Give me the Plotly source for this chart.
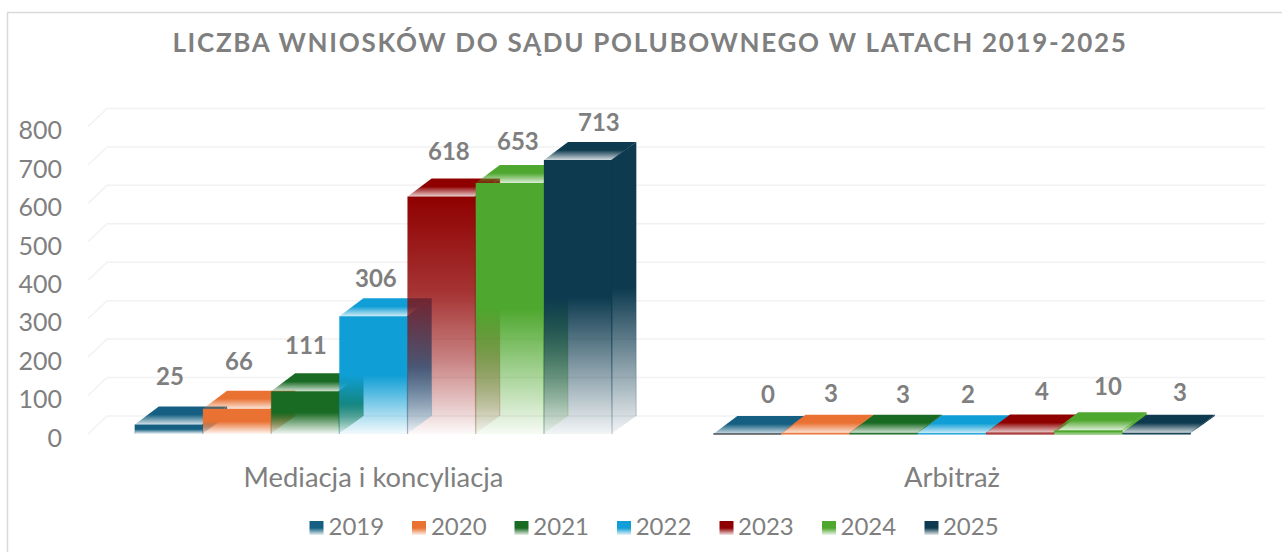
import plotly.graph_objects as go

W, H = 1282, 552
categories = ["Mediacja i koncyliacja", "Arbitraż"]
years = ["2019", "2020", "2021", "2022", "2023", "2024", "2025"]
mediacja = [25, 66, 111, 306, 618, 653, 713]
arbitraz = [0, 3, 3, 2, 4, 10, 3]
colors = ["#156082", "#E97132", "#196B24", "#0F9ED5", "#8F0000", "#4EA72E", "#0D3A4F"]
y_ticks = [0, 100, 200, 300, 400, 500, 600, 700, 800]
label_dx = [[1, 2, 1, 2, 7, 8, 21], [21, 15, 19, 16, 22, 20, 23]]
label_up = [[49, 48, 47, 39, 46, 42, 38], [41, 40, 39, 40, 42, 45, 41]]

GREY = "#7F7F7F"
FONT = "Lato"
# pixel geometry of the scene
PX_UNIT = 0.3844     # px per value unit
Y0_PX = 434
X0_PX, X1_PX = 373.5, 952
CAT_PX = X1_PX - X0_PX
PLOT_L, PLOT_R, PLOT_T, PLOT_B = 84, 1270, 90, 442
BAR_PX, DX_PX, DY_PX = 68.2, 24, 18
WALL_DX_PX = 19

# opacity along the height of a face: (position from the bottom, opacity)
FADE_HALF = [(0, 0.05), (0.5, 1), (1, 1)]
FADE_LONG = [(0, 0.02), (0.11, 0.2), (0.32, 0.5), (0.6, 0.8), (1, 1)]
fades = [FADE_HALF, FADE_HALF, FADE_HALF, FADE_HALF, FADE_LONG, FADE_HALF, FADE_HALF]


def xu(px):
    return px / CAT_PX


def yu(px):
    return px / PX_UNIT


def rgba(h, a):
    h = h.lstrip("#")
    return "rgba(%d,%d,%d,%.3f)" % (int(h[:2], 16), int(h[2:4], 16), int(h[4:], 16), a)


def scale_of(col, fade):
    return [[p, rgba(col, a)] for p, a in fade]


def poly(xs, ys, scale, start, stop):
    return go.Scatter(
        x=xs + xs[:1], y=ys + ys[:1], mode="lines", line=dict(width=0), fill="toself",
        fillgradient=dict(type="vertical", start=start, stop=stop, colorscale=scale),
        showlegend=False, hoverinfo="skip",
    )


fig = go.Figure()

x_min = xu(PLOT_L - X0_PX)
x_max = xu(PLOT_R - X0_PX)

# back wall + floor gridlines
gx, gy = [], []
for t in y_ticks:
    gx += [xu(88 - X0_PX), xu(88 + WALL_DX_PX - X0_PX), xu(1265 - X0_PX), None]
    gy += [t, t + yu(DY_PX), t + yu(DY_PX), None]
fig.add_trace(go.Scatter(x=gx, y=gy, mode="lines", line=dict(color="#F2F2F2", width=1.5),
                         showlegend=False, hoverinfo="skip"))

series_by_year = [[mediacja[i], arbitraz[i]] for i in range(len(years))]

# carriers: true grouped bars, native legend entries (transparent swatch sits over the gradient key)
for i, yr in enumerate(years):
    fig.add_trace(go.Bar(x=[0, 1], y=series_by_year[i], name=yr,
                         marker=dict(color="rgba(0,0,0,0)", line=dict(width=0)),
                         hoverinfo="x+y+name"))

bw = xu(BAR_PX)
dx = xu(DX_PX)
dy = yu(DY_PX)
seam = xu(1)
for c in range(2):
    for i in range(len(years)):
        v = series_by_year[i][c]
        col = colors[i]
        xl = c + (i - 3.5) * bw
        xr = xl + bw
        # side face (runs a pixel under the front face to close the seam)
        side_top = v + dy
        fig.add_trace(poly([xr - seam, xr + dx, xr + dx, xr - seam], [0, dy, side_top, v],
                           scale_of(col, fades[i]), 0, side_top))
        # top face
        fig.add_trace(poly([xl, xr, xr + dx, xl + dx], [v, v, v + dy, v + dy],
                           [[0, rgba(col, 0.2)], [0.55, rgba(col, 1)], [1, rgba(col, 1)]],
                           v, v + dy))
        # front face
        if v > 0:
            fig.add_trace(poly([xl, xr, xr, xl], [0, 0, v, v], scale_of(col, fades[i]), 0, v))
        # thin vertical edges
        fig.add_trace(go.Scatter(x=[xl, xl, None, xr, xr, None, xr + dx, xr + dx],
                                 y=[0, v, None, 0, v, None, dy, side_top], mode="lines",
                                 line=dict(color=rgba(col, 0.3), width=0.8),
                                 showlegend=False, hoverinfo="skip"))
        # base line, visible on the very low bars only
        if c == 1:
            fig.add_trace(go.Scatter(x=[xl, xr], y=[0, 0], mode="lines",
                                     line=dict(color="#000000" if v == 0 else col, width=1.2),
                                     showlegend=False, hoverinfo="skip"))
        fig.add_annotation(x=(xl + xr) / 2, y=v, xref="x", yref="y", text=str(v), showarrow=False,
                           xshift=label_dx[c][i], yshift=label_up[c][i], yanchor="middle",
                           font=dict(family=FONT, size=24, color=GREY, weight="bold"))

# gradient legend keys, on a pixel overlay axis
KEY_L0, KEY_STEP, KEY_SZ, KEY_TOP = 309.5, 102.5, 14, 521
for i, yr in enumerate(years):
    l = KEY_L0 + i * KEY_STEP
    r = l + KEY_SZ
    t = KEY_TOP
    b = t + KEY_SZ
    tr = poly([l, r, r, l], [b, b, t, t],
              [[0, rgba(colors[i], 0.1)], [0.5, rgba(colors[i], 1)], [1, rgba(colors[i], 1)]], b, t)
    tr.update(xaxis="x2", yaxis="y2")
    fig.add_trace(tr)

fig.update_layout(
    width=W, height=H, autosize=False,
    margin=dict(l=0, r=0, t=0, b=0),
    paper_bgcolor="#FFFFFF", plot_bgcolor="rgba(0,0,0,0)",
    barmode="group", bargap=1 - 7 * bw, bargroupgap=0,
    font=dict(family=FONT, color=GREY),
    title=dict(text="LICZBA WNIOSKÓW DO SĄDU POLUBOWNEGO W LATACH 2019-2025",
               font=dict(family=FONT, size=26, color=GREY, weight="bold"),
               x=650 / W, xanchor="center", y=1 - 43 / H, yanchor="middle"),
    showlegend=True,
    legend=dict(orientation="h", x=288.5 / W, xanchor="left", y=1 - 526 / H, yanchor="middle",
                entrywidth=57.4, entrywidthmode="pixels", traceorder="normal",
                font=dict(family=FONT, size=24, color=GREY), bgcolor="rgba(0,0,0,0)", borderwidth=0),
    xaxis=dict(domain=[PLOT_L / W, PLOT_R / W], range=[x_min, x_max], tickmode="array",
               tickvals=[0, 1], ticktext=categories, showgrid=False, zeroline=False, showline=False,
               ticks="", tickfont=dict(family=FONT, size=27.4, color=GREY), ticklabelstandoff=17,
               fixedrange=True, automargin=False),
    yaxis=dict(domain=[1 - PLOT_B / H, 1 - PLOT_T / H],
               range=[yu(Y0_PX - PLOT_B), yu(Y0_PX - PLOT_T)], tickmode="array", tickvals=y_ticks,
               showgrid=False, zeroline=False, showline=False, ticks="",
               tickfont=dict(family=FONT, size=25, color=GREY), ticklabelstandoff=21, ticklabelshift=4,
               fixedrange=True, automargin=False),
    xaxis2=dict(domain=[0, 1], range=[0, W], anchor="y2", visible=False, fixedrange=True, automargin=False),
    yaxis2=dict(domain=[0, 1], range=[H, 0], anchor="x2", visible=False, fixedrange=True, automargin=False),
    shapes=[dict(type="rect", xref="paper", yref="paper", x0=7.5 / W, x1=1.05, y0=-0.05, y1=1 - 12.5 / H,
                 line=dict(color="#D9D9D9", width=1.5), fillcolor="rgba(0,0,0,0)", layer="below")],
)

fig.write_html("out.html", config=dict(displayModeBar=False),
               post_script="document.body.style.margin='0';var t=document.querySelector('.gtitle');if(t){t.style.letterSpacing='1.7px';}")
